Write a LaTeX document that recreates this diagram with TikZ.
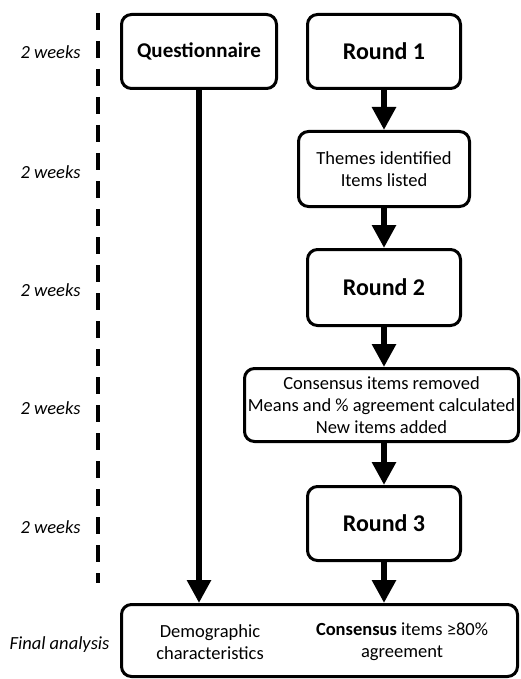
\documentclass[tikz,border=0pt]{standalone}
\usepackage{fontspec}
\setmainfont{Carlito}
\usetikzlibrary{arrows.meta}
\tikzset{
  box/.style={draw, line width=3pt, rounded corners=10pt, fill=white, align=center, inner sep=0pt},
  qtxt/.style={font=\fontsize{21}{25}\selectfont\bfseries},
  bigtxt/.style={font=\fontsize{24}{28}\selectfont\bfseries},
  smalltxt/.style={font=\fontsize{18.5}{22}\selectfont},
  timetxt/.style={font=\fontsize{18.5}{22}\selectfont\itshape, anchor=east},
  flow/.style={line width=6pt, -{Triangle[length=23pt,width=23pt]}},
  timeline/.style={line width=3.5pt, dash pattern=on 17pt off 11pt}
}
\begin{document}
\begin{tikzpicture}[x=1pt,y=-1pt]
\useasboundingbox (0,0) rectangle (521,679);
% boxes
\node[box, qtxt, minimum width=155pt, minimum height=74pt] (q) at (199,51.5) {\raisebox{-1pt}{Questionnaire}};
\node[box, bigtxt, minimum width=153pt, minimum height=74pt] (r1) at (384,51.5) {Round 1};
\node[box, smalltxt, minimum width=171pt, minimum height=75pt] (th) at (384,169) {Themes identified\\Items listed};
\node[box, bigtxt, minimum width=153pt, minimum height=76pt] (r2) at (384,287.5) {Round 2};
\node[box, smalltxt, minimum width=274pt, minimum height=73pt] (cs) at (381.5,405) {Consensus items removed\\Means and \% agreement calculated\\New items added};
\node[box, bigtxt, minimum width=153pt, minimum height=74pt] (r3) at (384,523.5) {Round 3};
\node[box, minimum width=396pt, minimum height=72pt] (fin) at (319.5,640.5) {};
\node[smalltxt, align=center] (demo) at (210,642) {Demographic\\characteristics};
\node[smalltxt, align=center] (cons) at (402,642) {\textbf{Consensus} items ≥80\%\\agreement};
% arrows
\draw[flow] (q.south) -- (q.south |- fin.north);
\draw[flow] (r1) -- (th);
\draw[flow] (th) -- (r2);
\draw[flow] (r2) -- (r2 |- cs.north);
\draw[flow] (r2 |- cs.south) -- (r3);
\draw[flow] (r3) -- (r3 |- fin.north);
% timeline
\coordinate (tA) at (98,13);
\coordinate (tB) at (98,583);
\draw[timeline] (tA) -- (tB);
\node[timetxt] (w1) at (84,52) {2 weeks};
\node[timetxt] (w2) at (84,172) {2 weeks};
\node[timetxt] (w3) at (84,290) {2 weeks};
\node[timetxt] (w4) at (84,408) {2 weeks};
\node[timetxt] (w5) at (84,527) {2 weeks};
\node[timetxt] (fa) at (113,645) {Final analysis};
\end{tikzpicture}
\end{document}
